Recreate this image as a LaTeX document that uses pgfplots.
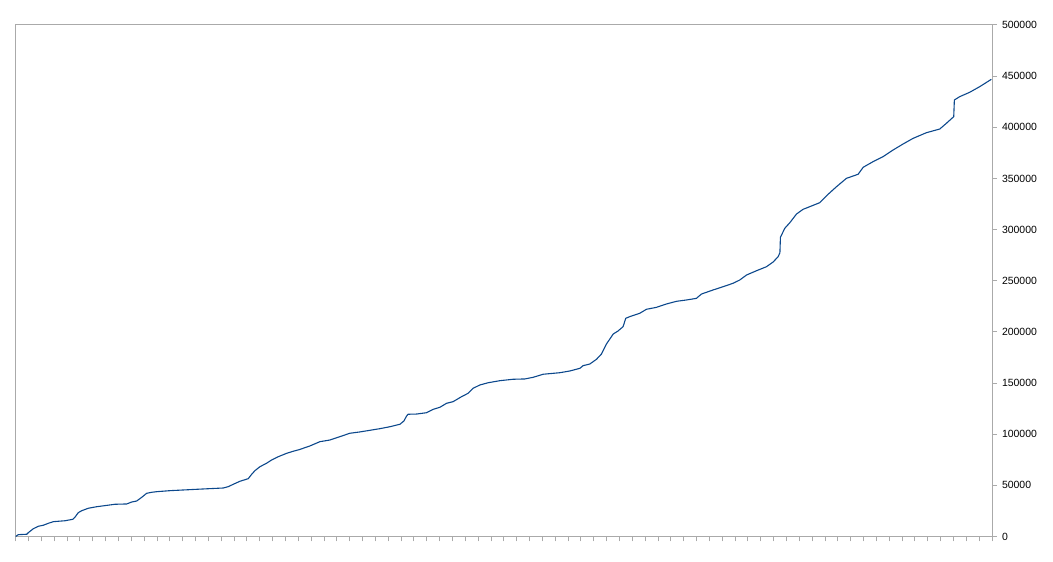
\documentclass[border=0pt]{standalone}
\usepackage{fontspec}
\setmainfont{Liberation Sans}
\usepackage{pgfplots}
\pgfplotsset{compat=1.18}
\definecolor{lineblue}{RGB}{12,72,140}
\definecolor{axisgray}{RGB}{170,170,170}
\begin{document}
\begin{tikzpicture}
\begin{axis}[
    width=976.3bp, height=511.5bp, scale only axis,
    xmin=0, xmax=76,
    ymin=0, ymax=500000,
    xtick={0,1,...,76},
    xticklabel=\empty,
    xtick pos=bottom,
    ytick={0,50000,...,500000},
    ytick pos=right,
    yticklabel pos=right,
    scaled y ticks=false,
    tick align=outside,
    major tick length=5bp,
    axis line style={draw=axisgray, line width=1bp},
    every axis/.append style={draw=axisgray},
    major tick style={draw=axisgray, line width=1bp},
    /pgf/number format/.cd, fixed, 1000 sep={}, assume math mode=true,
    /pgfplots/.cd,
    ticklabel style={font=\fontsize{10.5}{12}\selectfont, text=black},
    yticklabel style={xshift=1.5bp},
]
\addplot[color=lineblue, line width=1.1bp, mark=none] coordinates {
(0,0)(0.20,1800)(0.86,2200)(0.98,3700)(1.37,7600)(1.76,10000)(2.15,11000)
(2.54,12900)(2.93,14500)(3.84,15400)(4.44,16800)(4.61,18800)(4.87,23300)
(5.14,25200)(5.65,27600)(6.30,29100)(7.73,31500)(8.64,31800)(9.03,33700)
(9.42,34700)(9.81,38300)(10.19,42200)(10.58,43200)(10.97,43800)(12.01,44800)
(13.56,45800)(14.99,46700)(16.16,47400)(16.54,48700)(16.93,51000)(17.46,54000)
(18.10,56500)(18.37,60800)(18.62,64300)(19.01,68200)(19.53,71600)(19.92,74800)
(20.44,78000)(21.09,81300)(21.60,83300)(22.07,84900)(22.90,88500)(23.68,92700)
(24.46,94300)(25.24,97600)(26.01,100900)(26.79,102200)(27.57,103800)(28.35,105400)
(29.13,107300)(29.91,109700)(30.22,112900)(30.43,117800)(30.55,119500)(31.21,119700)
(31.98,121000)(32.50,124300)(33.02,126300)(33.54,130200)(34.05,131800)(34.71,136700)
(35.22,140000)(35.61,144900)(36.13,148100)(36.78,150300)(37.69,152300)(38.72,153700)
(39.63,154000)(40.28,155600)(41.06,158600)(42.36,160100)(43.14,161800)(43.92,164400)
(44.17,167000)(44.69,168600)(45.21,173200)(45.60,178400)(45.99,188200)(46.51,197900)
(46.89,200900)(47.28,205100)(47.49,213300)(47.80,214900)(48.58,218200)(49.10,222100)
(49.88,224000)(50.66,227300)(51.44,229900)(52.22,231200)(52.99,232800)(53.38,237000)
(54.29,241000)(55.07,244200)(55.84,247500)(56.36,250700)(56.89,255600)(57.67,259800)
(58.44,263700)(58.96,268300)(59.35,273500)(59.49,277400)(59.53,292500)(59.87,301300)
(60.26,306700)(60.78,315200)(61.29,319800)(61.81,322400)(62.59,326300)(63.24,334500)
(63.89,341900)(64.67,350100)(65.58,354100)(65.97,360900)(66.74,366400)(67.52,371300)
(68.30,377800)(69.08,383700)(69.86,389200)(70.89,394700)(71.93,398300)(72.45,403900)
(73.02,410400)(73.07,426700)(73.48,429900)(74.26,434200)(75.04,439700)(75.95,446900)
};
\end{axis}
\path (current axis.south west) ++(-15.7bp,-25.5bp);
\path (current axis.north east) ++(61bp,25bp);
\end{tikzpicture}
\end{document}
